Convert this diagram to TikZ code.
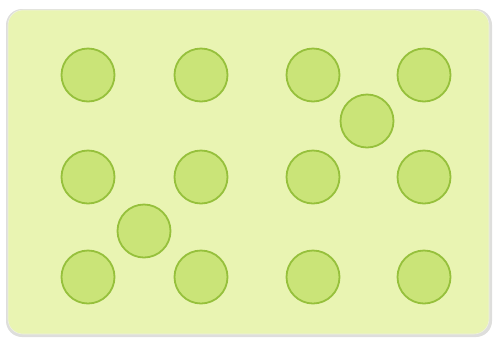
\documentclass[tikz,border=0pt]{standalone}
\usetikzlibrary{shadows}
\definecolor{panelfill}{RGB}{233,244,178}
\definecolor{panelshade}{RGB}{200,200,196}
\definecolor{dotfill}{RGB}{202,228,120}
\definecolor{dotline}{RGB}{150,192,60}
\tikzset{
  panel/.style={fill=panelfill, draw=panelfill!85!black!30, line width=0.6pt, rounded corners=15pt},
  dot/.style={circle, minimum size=53pt, inner sep=0pt, fill=dotfill, draw=dotline, line width=1.8pt}
}
\begin{document}
\begin{tikzpicture}[x=1pt,y=-1pt]
\useasboundingbox (0,0) rectangle (495,341);
\fill[panelshade!60, rounded corners=16pt] (6,9) rectangle (492,337);
\draw[panel] (8,10) rectangle (489,334);
\foreach \r/\y in {1/75,2/177,3/277}{
  \foreach \c/\x in {1/88,2/201,3/313,4/424}{
    \node[dot] (c\r\c) at (\x,\y) {};
  }
}
\node[dot] (e1) at (144,231) {};
\node[dot] (e2) at (367,121) {};
\end{tikzpicture}
\end{document}
